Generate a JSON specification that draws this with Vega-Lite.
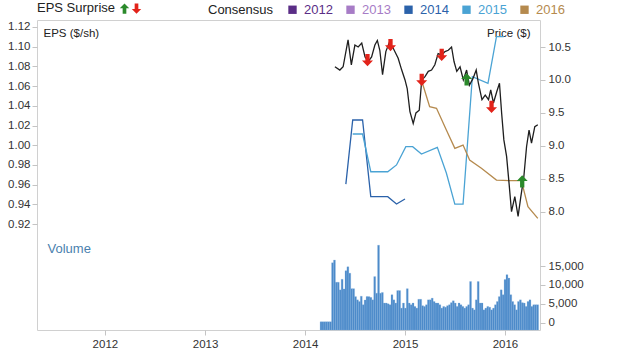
{
  "$schema": "https://vega.github.io/schema/vega-lite/v6.json",
  "width": 503,
  "height": 310,
  "autosize": {"type": "none"},
  "padding": {"left": 37, "top": 20, "right": 80, "bottom": 22},
  "background": "white",
  "config": {
    "font": "Liberation Sans",
    "view": {"stroke": "#d0d0d0", "strokeWidth": 1},
    "axis": {"labelFont": "Liberation Sans", "labelFontSize": 11.5, "labelColor": "#333", "tickColor": "#c4c4c4", "tickSize": 5, "domain": false, "grid": false, "titleFont": "Liberation Sans", "titleFontWeight": "normal", "titleColor": "#222", "titleFontSize": 11.5},
    "legend": {"labelFont": "Liberation Sans", "titleFont": "Liberation Sans"}
  },
  "datasets": {
    "eps": [
      {"date": "2014-05-30", "eps": 0.9606, "year": "2014"},
      {"date": "2014-06-24", "eps": 1.0256, "year": "2014"},
      {"date": "2014-07-30", "eps": 1.0256, "year": "2014"},
      {"date": "2014-08-29", "eps": 0.9478, "year": "2014"},
      {"date": "2014-10-30", "eps": 0.9478, "year": "2014"},
      {"date": "2014-12-01", "eps": 0.9403, "year": "2014"},
      {"date": "2015-01-01", "eps": 0.9454, "year": "2014"},
      {"date": "2014-06-24", "eps": 1.0114, "year": "2015"},
      {"date": "2014-07-30", "eps": 1.0114, "year": "2015"},
      {"date": "2014-08-29", "eps": 0.9731, "year": "2015"},
      {"date": "2014-10-30", "eps": 0.9731, "year": "2015"},
      {"date": "2014-12-01", "eps": 0.98, "year": "2015"},
      {"date": "2015-01-04", "eps": 0.9985, "year": "2015"},
      {"date": "2015-01-29", "eps": 0.9985, "year": "2015"},
      {"date": "2015-03-02", "eps": 0.9911, "year": "2015"},
      {"date": "2015-04-29", "eps": 0.9979, "year": "2015"},
      {"date": "2015-06-01", "eps": 0.9718, "year": "2015"},
      {"date": "2015-07-02", "eps": 0.9403, "year": "2015"},
      {"date": "2015-08-01", "eps": 0.9403, "year": "2015"},
      {"date": "2015-09-04", "eps": 1.0696, "year": "2015"},
      {"date": "2015-10-31", "eps": 1.0629, "year": "2015"},
      {"date": "2015-12-01", "eps": 1.1102, "year": "2015"},
      {"date": "2015-12-28", "eps": 1.1102, "year": "2015"},
      {"date": "2015-03-02", "eps": 1.0662, "year": "2016"},
      {"date": "2015-04-01", "eps": 1.0391, "year": "2016"},
      {"date": "2015-04-26", "eps": 1.0375, "year": "2016"},
      {"date": "2015-06-01", "eps": 1.0155, "year": "2016"},
      {"date": "2015-07-02", "eps": 0.9969, "year": "2016"},
      {"date": "2015-08-01", "eps": 1.0002, "year": "2016"},
      {"date": "2015-08-25", "eps": 0.985, "year": "2016"},
      {"date": "2015-10-07", "eps": 0.9766, "year": "2016"},
      {"date": "2015-12-01", "eps": 0.9647, "year": "2016"},
      {"date": "2016-01-18", "eps": 0.964, "year": "2016"},
      {"date": "2016-03-01", "eps": 0.964, "year": "2016"},
      {"date": "2016-03-25", "eps": 0.9376, "year": "2016"},
      {"date": "2016-04-30", "eps": 0.9258, "year": "2016"}
    ],
    "price": [
      {"date": "2014-04-20", "price": 10.20}, {"date": "2014-05-08", "price": 10.15},
      {"date": "2014-05-20", "price": 10.20}, {"date": "2014-06-07", "price": 10.61},
      {"date": "2014-06-19", "price": 10.23}, {"date": "2014-07-02", "price": 10.53},
      {"date": "2014-07-14", "price": 10.50}, {"date": "2014-07-27", "price": 10.56},
      {"date": "2014-08-08", "price": 10.35}, {"date": "2014-08-20", "price": 10.28},
      {"date": "2014-09-01", "price": 10.35}, {"date": "2014-09-13", "price": 10.53},
      {"date": "2014-09-22", "price": 10.60}, {"date": "2014-10-01", "price": 10.45},
      {"date": "2014-10-11", "price": 10.08}, {"date": "2014-10-23", "price": 10.43},
      {"date": "2014-11-04", "price": 10.56}, {"date": "2014-11-19", "price": 10.48},
      {"date": "2014-12-07", "price": 10.33}, {"date": "2014-12-20", "price": 10.15},
      {"date": "2015-01-01", "price": 10.00}, {"date": "2015-01-09", "price": 9.87},
      {"date": "2015-01-19", "price": 9.52}, {"date": "2015-01-31", "price": 9.34},
      {"date": "2015-02-10", "price": 9.50}, {"date": "2015-02-22", "price": 9.54},
      {"date": "2015-03-03", "price": 10.00}, {"date": "2015-03-15", "price": 10.05},
      {"date": "2015-03-27", "price": 10.13}, {"date": "2015-04-08", "price": 10.15},
      {"date": "2015-04-20", "price": 10.23}, {"date": "2015-05-02", "price": 10.40},
      {"date": "2015-05-15", "price": 10.38}, {"date": "2015-05-27", "price": 10.43},
      {"date": "2015-06-08", "price": 10.45}, {"date": "2015-06-20", "price": 10.50},
      {"date": "2015-06-29", "price": 10.28}, {"date": "2015-07-09", "price": 10.13},
      {"date": "2015-07-21", "price": 10.20}, {"date": "2015-08-02", "price": 10.00},
      {"date": "2015-08-14", "price": 10.15}, {"date": "2015-08-24", "price": 9.92},
      {"date": "2015-09-06", "price": 10.02}, {"date": "2015-09-18", "price": 10.15},
      {"date": "2015-09-26", "price": 9.95}, {"date": "2015-10-09", "price": 9.70},
      {"date": "2015-10-21", "price": 9.77}, {"date": "2015-11-02", "price": 9.70},
      {"date": "2015-11-10", "price": 9.85}, {"date": "2015-11-20", "price": 9.65},
      {"date": "2015-12-02", "price": 9.82}, {"date": "2015-12-12", "price": 9.95},
      {"date": "2015-12-20", "price": 9.49}, {"date": "2015-12-28", "price": 9.09},
      {"date": "2016-01-07", "price": 8.84}, {"date": "2016-01-16", "price": 8.43},
      {"date": "2016-01-25", "price": 8.00}, {"date": "2016-02-06", "price": 8.23},
      {"date": "2016-02-18", "price": 7.93}, {"date": "2016-02-28", "price": 8.23},
      {"date": "2016-03-10", "price": 8.53}, {"date": "2016-03-20", "price": 8.99},
      {"date": "2016-03-29", "price": 9.24}, {"date": "2016-04-07", "price": 9.04},
      {"date": "2016-04-19", "price": 9.29}, {"date": "2016-04-30", "price": 9.32}
    ],
    "surprise": [
      {"date": "2014-08-17", "price": 10.30, "type": "miss"},
      {"date": "2014-11-09", "price": 10.53, "type": "miss"},
      {"date": "2015-03-03", "price": 10.00, "type": "miss"},
      {"date": "2015-05-15", "price": 10.38, "type": "miss"},
      {"date": "2015-11-13", "price": 9.59, "type": "miss"},
      {"date": "2015-08-14", "price": 10.01, "type": "beat"},
      {"date": "2016-03-04", "price": 8.46, "type": "beat"}
    ],
    "volume": [
      {"date": "2014-02-24", "volume": 250}, {"date": "2014-03-03", "volume": 250},
      {"date": "2014-03-10", "volume": 250}, {"date": "2014-03-17", "volume": 250},
      {"date": "2014-03-24", "volume": 250}, {"date": "2014-03-31", "volume": 250},
      {"date": "2014-04-07", "volume": 15860}, {"date": "2014-04-14", "volume": 16570},
      {"date": "2014-04-21", "volume": 10700}, {"date": "2014-04-28", "volume": 10700},
      {"date": "2014-05-05", "volume": 8680}, {"date": "2014-05-12", "volume": 11490},
      {"date": "2014-05-19", "volume": 8940}, {"date": "2014-05-26", "volume": 13750},
      {"date": "2014-06-02", "volume": 14800}, {"date": "2014-06-09", "volume": 13100},
      {"date": "2014-06-16", "volume": 9000}, {"date": "2014-06-23", "volume": 9000},
      {"date": "2014-06-30", "volume": 6900}, {"date": "2014-07-07", "volume": 6050},
      {"date": "2014-07-14", "volume": 5600}, {"date": "2014-07-21", "volume": 7000},
      {"date": "2014-07-28", "volume": 4750}, {"date": "2014-08-04", "volume": 6000},
      {"date": "2014-08-11", "volume": 6900}, {"date": "2014-08-18", "volume": 6900},
      {"date": "2014-08-25", "volume": 6700}, {"date": "2014-09-01", "volume": 6050},
      {"date": "2014-09-08", "volume": 12200}, {"date": "2014-09-15", "volume": 7800},
      {"date": "2014-09-22", "volume": 20500}, {"date": "2014-09-29", "volume": 7800},
      {"date": "2014-10-06", "volume": 8000}, {"date": "2014-10-13", "volume": 5200},
      {"date": "2014-10-20", "volume": 5200}, {"date": "2014-10-27", "volume": 5000},
      {"date": "2014-11-03", "volume": 4750}, {"date": "2014-11-10", "volume": 7400},
      {"date": "2014-11-17", "volume": 6050}, {"date": "2014-11-24", "volume": 5200},
      {"date": "2014-12-01", "volume": 8500}, {"date": "2014-12-08", "volume": 8500},
      {"date": "2014-12-15", "volume": 3860}, {"date": "2014-12-22", "volume": 5200},
      {"date": "2014-12-29", "volume": 3860}, {"date": "2015-01-05", "volume": 9000},
      {"date": "2015-01-12", "volume": 5200}, {"date": "2015-01-19", "volume": 4750},
      {"date": "2015-01-26", "volume": 5200}, {"date": "2015-02-02", "volume": 4300},
      {"date": "2015-02-09", "volume": 3860}, {"date": "2015-02-16", "volume": 6200},
      {"date": "2015-02-23", "volume": 6200}, {"date": "2015-03-02", "volume": 4500},
      {"date": "2015-03-09", "volume": 4300}, {"date": "2015-03-16", "volume": 4750},
      {"date": "2015-03-23", "volume": 6050}, {"date": "2015-03-30", "volume": 6050},
      {"date": "2015-04-06", "volume": 6500}, {"date": "2015-04-13", "volume": 5600},
      {"date": "2015-04-20", "volume": 5200}, {"date": "2015-04-27", "volume": 5200},
      {"date": "2015-05-04", "volume": 4750}, {"date": "2015-05-11", "volume": 3860},
      {"date": "2015-05-18", "volume": 4300}, {"date": "2015-05-25", "volume": 4100},
      {"date": "2015-06-01", "volume": 4500}, {"date": "2015-06-08", "volume": 4750},
      {"date": "2015-06-15", "volume": 5300}, {"date": "2015-06-22", "volume": 5800},
      {"date": "2015-06-29", "volume": 5200}, {"date": "2015-07-06", "volume": 4300},
      {"date": "2015-07-13", "volume": 5200}, {"date": "2015-07-20", "volume": 4750},
      {"date": "2015-07-27", "volume": 4300}, {"date": "2015-08-03", "volume": 3860},
      {"date": "2015-08-10", "volume": 4300}, {"date": "2015-08-17", "volume": 4750},
      {"date": "2015-08-24", "volume": 10900}, {"date": "2015-08-31", "volume": 3860},
      {"date": "2015-09-07", "volume": 3400}, {"date": "2015-09-14", "volume": 6050},
      {"date": "2015-09-21", "volume": 10900}, {"date": "2015-09-28", "volume": 5200},
      {"date": "2015-10-05", "volume": 5200}, {"date": "2015-10-12", "volume": 3400},
      {"date": "2015-10-19", "volume": 3860}, {"date": "2015-10-26", "volume": 4300},
      {"date": "2015-11-02", "volume": 4100}, {"date": "2015-11-09", "volume": 3400},
      {"date": "2015-11-16", "volume": 3860}, {"date": "2015-11-23", "volume": 4750},
      {"date": "2015-11-30", "volume": 5600}, {"date": "2015-12-07", "volume": 6900},
      {"date": "2015-12-14", "volume": 8700}, {"date": "2015-12-21", "volume": 7400},
      {"date": "2015-12-28", "volume": 11400}, {"date": "2016-01-04", "volume": 12700},
      {"date": "2016-01-11", "volume": 11800}, {"date": "2016-01-18", "volume": 7400},
      {"date": "2016-01-25", "volume": 5600}, {"date": "2016-02-01", "volume": 4750},
      {"date": "2016-02-08", "volume": 3400}, {"date": "2016-02-15", "volume": 5600},
      {"date": "2016-02-22", "volume": 6050}, {"date": "2016-02-29", "volume": 5300},
      {"date": "2016-03-07", "volume": 5200}, {"date": "2016-03-14", "volume": 4300},
      {"date": "2016-03-21", "volume": 5600}, {"date": "2016-03-28", "volume": 6050},
      {"date": "2016-04-04", "volume": 4300}, {"date": "2016-04-11", "volume": 4750},
      {"date": "2016-04-18", "volume": 4750}, {"date": "2016-04-25", "volume": 4750}
    ]
  },
  "layer": [
    {
      "data": {"name": "volume"},
      "mark": {"type": "bar", "color": "#4c8ac9", "binSpacing": 0, "stroke": "#7eb0de", "strokeWidth": 0.25},
      "encoding": {
        "x": {"field": "date", "timeUnit": "yearweek", "type": "temporal", "scale": {"domain": ["2011-04-28", "2016-05-08"], "nice": false}, "axis": {"format": "%Y", "tickCount": {"interval": "year", "step": 1}, "labelPadding": 3, "title": null}},
        "y": {"field": "volume", "type": "quantitative", "scale": {"domain": [-1930, 80080], "nice": false, "zero": false}, "axis": {"orient": "right", "values": [0, 5000, 10000, 15000], "format": ",d", "title": "Volume", "titleAngle": 0, "titleAlign": "left", "titleBaseline": "middle", "titleX": -493, "titleY": 228, "titleColor": "#4a7fae", "titleFontSize": 13, "labelPadding": 3}},
        "y2": {"datum": -1930}
      }
    },
    {
      "data": {"name": "eps"},
      "mark": {"type": "line", "strokeWidth": 1.3},
      "encoding": {
        "x": {"field": "date", "type": "temporal", "scale": {"domain": ["2011-04-28", "2016-05-08"], "nice": false}, "axis": {"format": "%Y", "tickCount": {"interval": "year", "step": 1}, "labelPadding": 3, "title": null}},
        "y": {"field": "eps", "type": "quantitative", "scale": {"domain": [0.8125, 1.1271], "nice": false, "zero": false}, "axis": {"orient": "left", "values": [0.92, 0.94, 0.96, 0.98, 1.0, 1.02, 1.04, 1.06, 1.08, 1.1, 1.12], "format": ".2f", "title": "EPS ($/sh)", "titleAngle": 0, "titleAlign": "left", "titleBaseline": "middle", "titleX": 6, "titleY": 13, "labelPadding": 2}},
        "color": {"field": "year", "type": "nominal", "scale": {"domain": ["2012", "2013", "2014", "2015", "2016"], "range": ["#5a2d86", "#a77cc6", "#2b62aa", "#4aa3d4", "#b58a4e"]},
          "legend": {"orient": "none", "legendX": 171, "legendY": -17, "direction": "horizontal", "title": "Consensus", "titleOrient": "left", "titleFontSize": 13, "titleFontWeight": "normal", "titleColor": "#222", "titlePadding": 12, "labelFontSize": 13, "symbolType": "square", "symbolSize": 70, "symbolStrokeWidth": 0, "columnPadding": 11, "labelOffset": 5,
            "encode": {"symbols": {"update": {"fill": {"scale": "color", "field": "value"}, "fillOpacity": {"value": 1}}}, "labels": {"update": {"fill": {"scale": "color", "field": "value"}}}}}}
      }
    },
    {
      "encoding": {
        "x": {"field": "date", "type": "temporal", "scale": {"domain": ["2011-04-28", "2016-05-08"], "nice": false}, "axis": {"format": "%Y", "tickCount": {"interval": "year", "step": 1}, "labelPadding": 3, "title": null}},
        "y": {"field": "price", "type": "quantitative", "scale": {"domain": [6.204, 10.91], "nice": false, "zero": false}, "axis": {"orient": "right", "values": [8, 8.5, 9, 9.5, 10, 10.5], "format": ".1f", "title": "Price ($)", "titleAngle": 0, "titleAlign": "right", "titleBaseline": "middle", "titleX": -10, "titleY": 13, "labelPadding": 3}}
      },
      "layer": [
        {"data": {"name": "price"}, "mark": {"type": "line", "color": "#1e1e1e", "strokeWidth": 1.3}},
        {"data": {"name": "surprise"}, "mark": {"type": "point", "filled": true, "size": 150, "strokeWidth": 0, "opacity": 1},
          "encoding": {
            "fill": {"field": "type", "type": "nominal", "scale": {"domain": ["beat", "miss"], "range": ["#2b8a2b", "#e2231a"]},
              "legend": {"orient": "none", "legendX": 0, "legendY": -17, "direction": "horizontal", "title": "EPS Surprise", "titleOrient": "left", "titleFontSize": 13, "titleFontWeight": "normal", "titleColor": "#222", "titlePadding": 3, "labelExpr": "''", "labelOffset": 0, "columnPadding": 1, "symbolSize": 110, "symbolStrokeWidth": 0}},
            "shape": {"field": "type", "type": "nominal", "scale": {"domain": ["beat", "miss"], "range": ["M0,-1L0.9,-0.05L0.35,-0.05L0.35,1L-0.35,1L-0.35,-0.05L-0.9,-0.05Z", "M0,1L0.9,0.05L0.35,0.05L0.35,-1L-0.35,-1L-0.35,0.05L-0.9,0.05Z"]},
              "legend": {"orient": "none", "legendX": 0, "legendY": -17, "direction": "horizontal", "title": "EPS Surprise", "titleOrient": "left", "titleFontSize": 13, "titleFontWeight": "normal", "titleColor": "#222", "titlePadding": 3, "labelExpr": "''", "labelOffset": 0, "columnPadding": 1, "symbolSize": 110, "symbolStrokeWidth": 0}}
          }
        }
      ]
    }
  ],
  "resolve": {"scale": {"y": "independent"}, "axis": {"y": "independent"}}
}
